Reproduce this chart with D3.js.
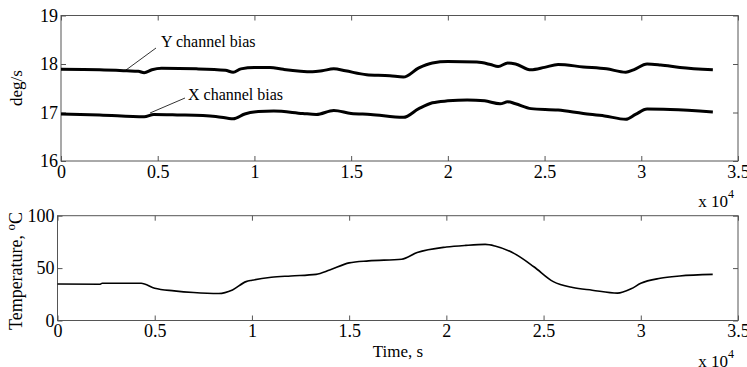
<!DOCTYPE html>
<html>
<head>
<meta charset="utf-8">
<script src="https://cdn.jsdelivr.net/npm/d3@7"></script>
<style>
  body { margin: 0; background: #fff; }
  svg { display: block; }
</style>
</head>
<body>
<svg width="747" height="367" font-family="'Liberation Serif', 'Times New Roman', serif"></svg>
<script>
// time in seconds
var biasYTime = [0, 2000, 3400, 4000, 4300, 4700, 5200, 7000, 8500, 8900, 9300, 10000, 10800, 11500, 13000, 13500, 14100, 14700, 15800, 17000, 17700, 18500, 19200, 20000, 21500, 22200, 22600, 23100, 23500, 24300, 25000, 25700, 27000, 28200, 29200, 29600, 30300, 31000, 32000, 33700];
var biasY     = [17.89, 17.88, 17.86, 17.85, 17.82, 17.88, 17.91, 17.90, 17.87, 17.83, 17.90, 17.93, 17.93, 17.89, 17.84, 17.86, 17.90, 17.86, 17.78, 17.76, 17.73, 17.92, 18.02, 18.05, 18.04, 17.99, 17.95, 18.02, 18.00, 17.88, 17.93, 17.99, 17.94, 17.90, 17.83, 17.88, 18.00, 17.98, 17.93, 17.88];

var biasXTime = [0, 2000, 4300, 4800, 6000, 8000, 8900, 9500, 10200, 11000, 12500, 13200, 14100, 15000, 16000, 17700, 18500, 19200, 20000, 21000, 21900, 22700, 23100, 23500, 24300, 25700, 27000, 28100, 29200, 29700, 30300, 31500, 33700];
var biasX     = [16.97, 16.95, 16.91, 16.96, 16.95, 16.92, 16.87, 16.97, 17.02, 17.03, 16.98, 16.96, 17.04, 16.98, 16.96, 16.90, 17.08, 17.20, 17.24, 17.26, 17.24, 17.18, 17.22, 17.18, 17.08, 17.05, 16.98, 16.93, 16.86, 16.96, 17.07, 17.06, 17.01];

var tempTime = [0, 2200, 2300, 4300, 5000, 6000, 7000, 8300, 9000, 9700, 10000, 11000, 12000, 13300, 14000, 15000, 16000, 17700, 18500, 20000, 21000, 22000, 22500, 23500, 24500, 25500, 26500, 27500, 28800, 29500, 30000, 31000, 32000, 33700];
var temp     = [34.9, 34.6, 35.6, 35.5, 30.8, 28.3, 26.7, 25.8, 29.2, 37.1, 38.4, 41.2, 42.5, 44.0, 48.1, 55.0, 56.9, 58.5, 64.8, 70.1, 71.7, 72.6, 71.1, 63.8, 51.3, 37.1, 31.4, 28.9, 26.1, 30.2, 35.5, 40.3, 42.5, 44.0];

var timeTicks = [0, 5000, 10000, 15000, 20000, 25000, 30000, 35000];
var biasTicks = [16, 17, 18, 19];
var tempTicks = [0, 50, 100];

var serif = "'Liberation Serif', 'Times New Roman', serif";
var svg = d3.select("svg");
var frameColor = "#555";

function zip(t, v) { return t.map(function(d, i) { return [d, v[i]]; }); }

function panel(box, yDomain, yTicks) {
  var x = d3.scaleLinear().domain([0, 35000]).range([box.left, box.right]);
  var y = d3.scaleLinear().domain(yDomain).range([box.bottom, box.top]);
  var g = svg.append("g");

  g.append("rect")
      .attr("x", box.left).attr("y", box.top)
      .attr("width", box.right - box.left).attr("height", box.bottom - box.top)
      .attr("fill", "none").attr("stroke", frameColor).attr("stroke-width", 1);

  var fmt = function(d) { return d / 1e4; };

  g.append("g").attr("transform", "translate(0," + box.bottom + ")")
      .call(d3.axisBottom(x).tickValues(timeTicks).tickSize(-5).tickSizeOuter(0).tickPadding(4).tickFormat(fmt));
  g.append("g").attr("transform", "translate(0," + box.top + ")")
      .call(d3.axisTop(x).tickValues(timeTicks).tickSize(-5).tickSizeOuter(0).tickFormat(""));
  g.append("g").attr("transform", "translate(" + box.left + ",0)")
      .call(d3.axisLeft(y).tickValues(yTicks).tickSize(-5).tickSizeOuter(0).tickPadding(3)
        .tickFormat(function(d) { return d; }));
  g.append("g").attr("transform", "translate(" + box.right + ",0)")
      .call(d3.axisRight(y).tickValues(yTicks).tickSize(-5).tickSizeOuter(0).tickFormat(""));

  g.selectAll(".domain").remove();
  g.selectAll("g").attr("font-family", serif);
  g.selectAll(".tick line").attr("stroke", frameColor);
  g.selectAll(".tick text").attr("font-size", 18).attr("fill", "#000").style("font-family", serif);

  // x 10^4 multiplier
  var m = g.append("text").attr("x", box.right - 4).attr("y", box.bottom + 46)
      .attr("text-anchor", "end").attr("font-size", 17);
  m.append("tspan").text("x 10");
  m.append("tspan").attr("font-size", 12).attr("dy", -9).text("4");

  return {x: x, y: y, g: g};
}

// top panel: bias
var biasPanel = panel({left: 61, right: 738, top: 15.5, bottom: 161}, [16, 19], biasTicks);
var lineBias = d3.line()
    .x(function(d) { return biasPanel.x(d[0]); })
    .y(function(d) { return biasPanel.y(d[1]); })
    .curve(d3.curveMonotoneX);
biasPanel.g.append("path").datum(zip(biasYTime, biasY))
    .attr("d", lineBias).attr("fill", "none").attr("stroke", "#000").attr("stroke-width", 3);
biasPanel.g.append("path").datum(zip(biasXTime, biasX))
    .attr("d", lineBias).attr("fill", "none").attr("stroke", "#000").attr("stroke-width", 3);

biasPanel.g.append("text").attr("x", 161).attr("y", 47).attr("font-size", 16).text("Y channel bias");
biasPanel.g.append("line").attr("x1", 156).attr("y1", 48).attr("x2", 126).attr("y2", 70)
    .attr("stroke", "#000").attr("stroke-width", 0.8);
biasPanel.g.append("text").attr("x", 188).attr("y", 100).attr("font-size", 16).text("X channel bias");
biasPanel.g.append("line").attr("x1", 185).attr("y1", 98).attr("x2", 150).attr("y2", 113)
    .attr("stroke", "#000").attr("stroke-width", 0.8);

svg.append("text").attr("transform", "translate(22,88) rotate(-90)")
    .attr("text-anchor", "middle").attr("font-size", 17).text("deg/s");

// bottom panel: temperature
var tempPanel = panel({left: 57.5, right: 738, top: 215.7, bottom: 320.5}, [0, 100], tempTicks);
var lineTemp = d3.line()
    .x(function(d) { return tempPanel.x(d[0]); })
    .y(function(d) { return tempPanel.y(d[1]); })
    .curve(d3.curveMonotoneX);
tempPanel.g.append("path").datum(zip(tempTime, temp))
    .attr("d", lineTemp).attr("fill", "none").attr("stroke", "#000").attr("stroke-width", 1.6);

var tl = svg.append("text").attr("transform", "translate(22,271) rotate(-90)")
    .attr("text-anchor", "middle").attr("font-size", 18);
tl.append("tspan").text("Temperature, ");
tl.append("tspan").attr("font-size", 13).attr("dy", -7).text("o");
tl.append("tspan").attr("dy", 7).text("C");

svg.append("text").attr("x", 398).attr("y", 357).attr("text-anchor", "middle")
    .attr("font-size", 17).text("Time, s");
</script>
</body>
</html>
